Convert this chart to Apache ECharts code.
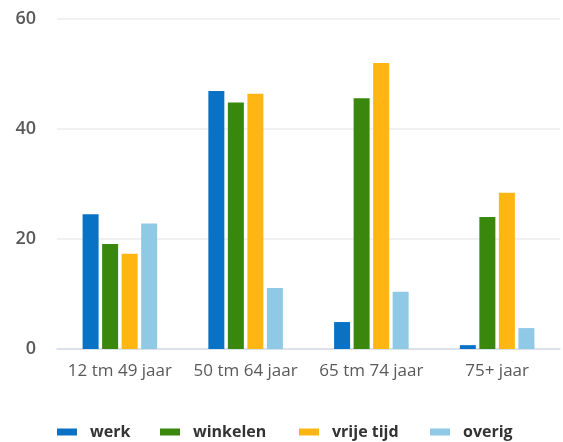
<!DOCTYPE html>
<html>
<head>
<meta charset="utf-8">
<script src="https://cdn.jsdelivr.net/npm/echarts@6/dist/echarts.min.js"></script>
<style>
  html, body { margin: 0; padding: 0; background: #fff; }
  #chart { width: 563px; height: 442px; }
</style>
</head>
<body>
<div id="chart"></div>
<script>
const categories = ['12 tm 49 jaar', '50 tm 64 jaar', '65 tm 74 jaar', '75+ jaar']
const seriesNames = ['werk', 'winkelen', 'vrije tijd', 'overig']
const werk = [24.5, 46.9, 4.9, 0.7]
const winkelen = [19.1, 44.8, 45.6, 24.0]
const vrijeTijd = [17.3, 46.4, 52.0, 28.4]
const overig = [22.8, 11.1, 10.4, 3.8]
const yTicks = [0, 20, 40, 60]

const colors = ['#0a72c4', '#39870c', '#ffb612', '#8fc9e6']
const font = '"Open Sans", "Noto Sans", sans-serif'

const chart = echarts.init(document.getElementById('chart'))

const mkSeries = (name, data, color) => ({
  name,
  type: 'bar',
  data,
  barWidth: 16,
  barGap: '22%',
  itemStyle: { color }
})

// one legend per item so each sits where the original has it
const legendLeft = [57, 160, 299, 430]
const legends = seriesNames.map((name, i) => ({
  left: legendLeft[i],
  top: 424,
  padding: 0,
  itemWidth: 20,
  itemHeight: 7,
  icon: 'rect',
  textStyle: { fontFamily: font, fontSize: 16, fontWeight: 'bold', color: '#333', padding: [0, 0, 0, 8] },
  data: [name]
}))

chart.setOption({
  animation: false,
  color: colors,
  grid: { left: 57, right: 3, top: 19, bottom: 93 },
  legend: legends,
  xAxis: {
    type: 'category',
    data: categories,
    axisTick: { show: false },
    axisLine: { lineStyle: { color: '#d3dde6', width: 1.5 } },
    axisLabel: { interval: 0, fontFamily: font, fontSize: 17, color: '#595959', margin: 14 }
  },
  yAxis: {
    type: 'value',
    min: yTicks[0],
    max: yTicks[yTicks.length - 1],
    interval: 20,
    axisLine: { show: false },
    axisTick: { show: false },
    splitLine: { lineStyle: { color: '#ececec', width: 1.5 } },
    axisLabel: { fontFamily: font, fontSize: 18, fontWeight: 600, color: '#595959', margin: 21 }
  },
  series: [
    mkSeries('werk', werk, colors[0]),
    mkSeries('winkelen', winkelen, colors[1]),
    mkSeries('vrije tijd', vrijeTijd, colors[2]),
    mkSeries('overig', overig, colors[3])
  ]
})
</script>
</body>
</html>
